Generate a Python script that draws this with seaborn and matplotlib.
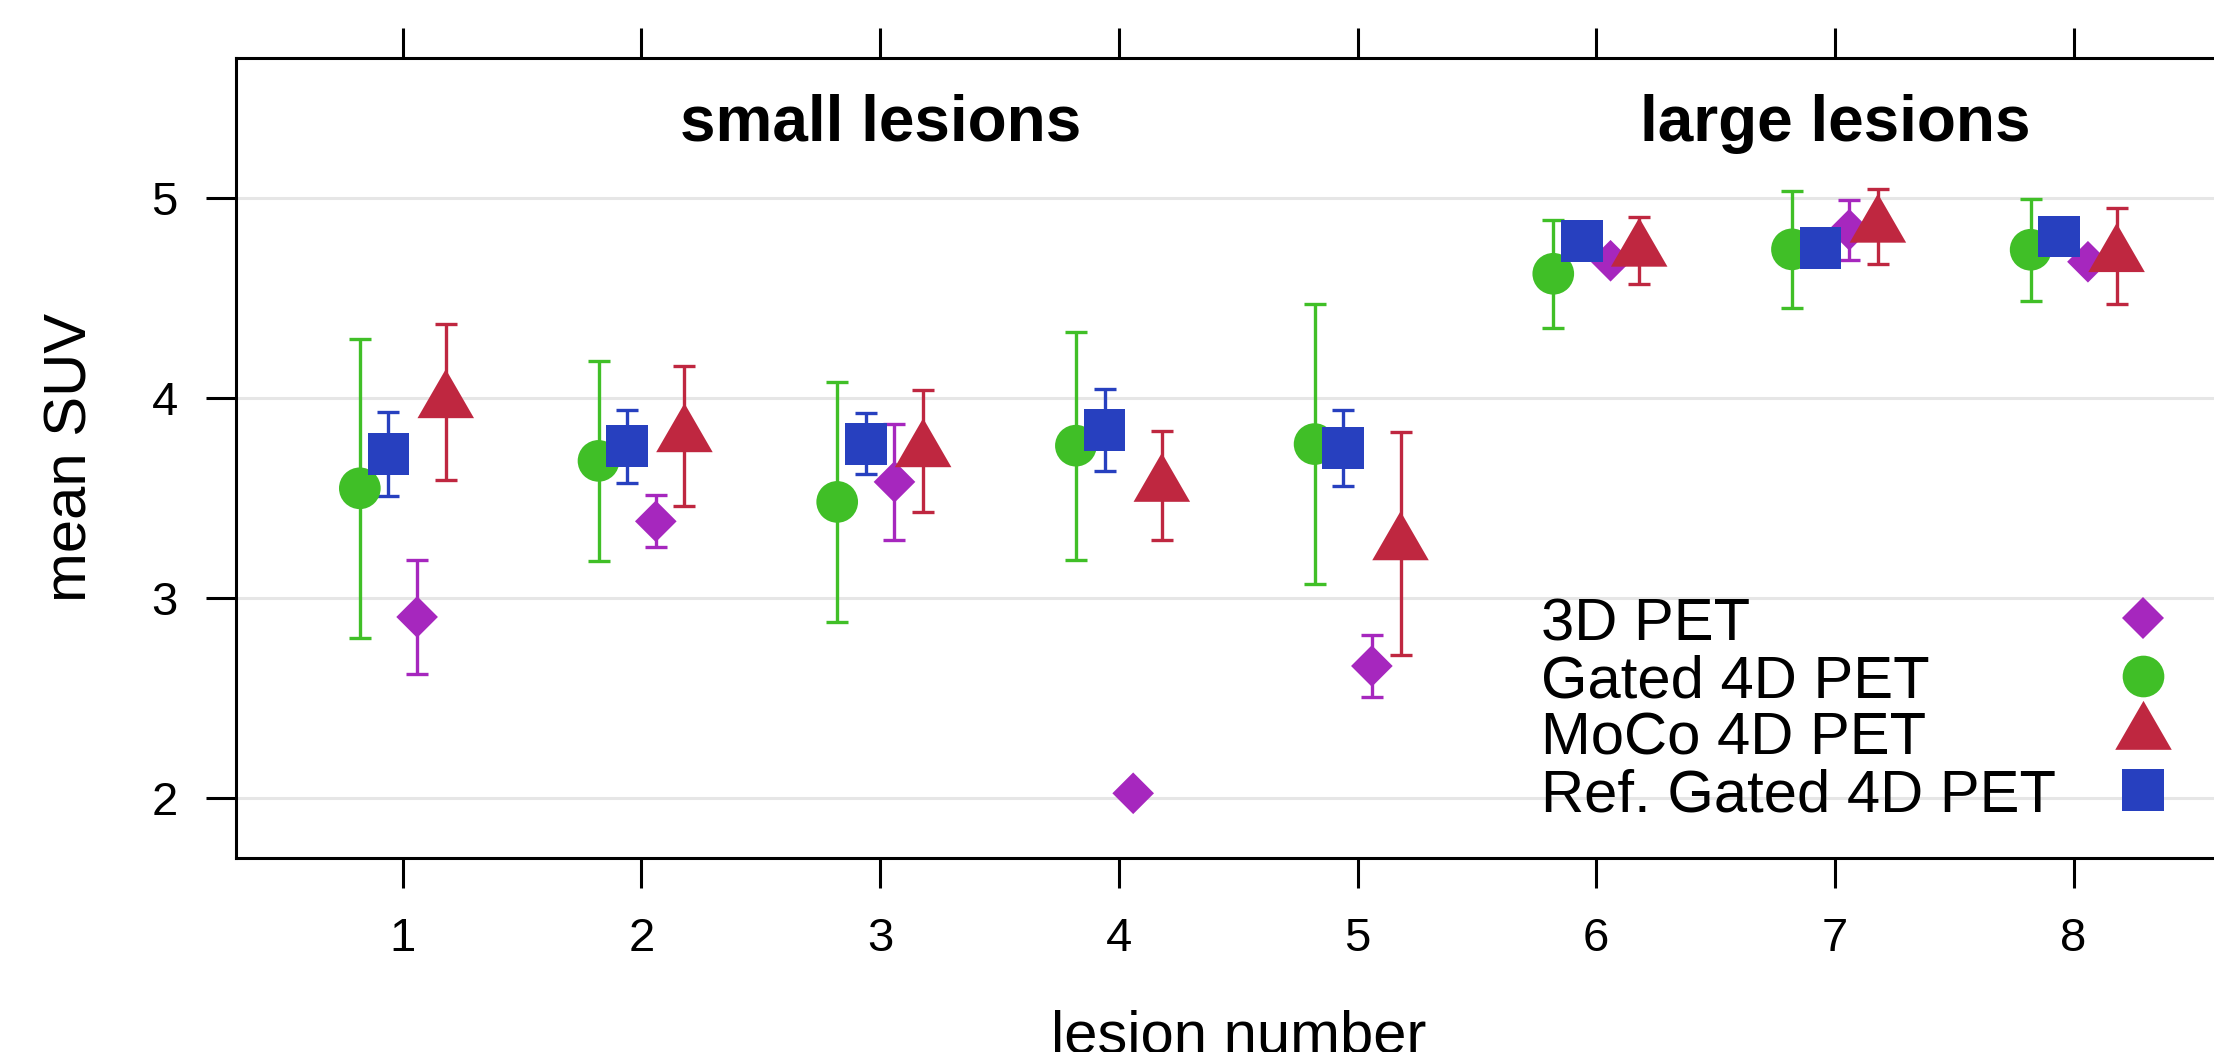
import numpy as np
import seaborn as sns
import matplotlib.pyplot as plt
from matplotlib.path import Path

# lesion numbers and per-method mean SUV with +/- error
lesions = [1, 2, 3, 4, 5, 6, 7, 8]
methods = ["3D PET", "Gated 4D PET", "MoCo 4D PET", "Ref. Gated 4D PET"]

suv_3d = [2.905, 3.383, 3.58, 2.024, 2.66, 4.685, 4.84, 4.68]
err_3d = [0.285, 0.13, 0.29, 0.01, 0.153, 0.03, 0.15, 0.03]

suv_gated = [3.548, 3.685, 3.48, 3.761, 3.769, 4.62, 4.742, 4.74]
err_gated = [0.748, 0.499, 0.60, 0.57, 0.698, 0.27, 0.292, 0.256]

suv_moco = [3.98, 3.81, 3.735, 3.562, 3.27, 4.737, 4.857, 4.71]
err_moco = [0.39, 0.35, 0.305, 0.271, 0.557, 0.169, 0.187, 0.24]

suv_ref = [3.72, 3.758, 3.77, 3.84, 3.75, 4.785, 4.749, 4.806]
err_ref = [0.21, 0.182, 0.153, 0.205, 0.19, 0.03, 0.03, 0.03]

panel_labels = ["small lesions", "large lesions"]

sns.set_theme(style="white")
plt.rcParams['font.family'] = ['Liberation Sans', 'DejaVu Sans']
for k in ["text.color", "axes.labelcolor", "xtick.color", "ytick.color", "axes.edgecolor"]:
    plt.rcParams[k] = "black"

# equilateral triangle centred on its centroid (like R's pch 17)
tri = Path([(0, 1), (-0.866, -0.5), (0.866, -0.5), (0, 1)],
           [Path.MOVETO, Path.LINETO, Path.LINETO, Path.CLOSEPOLY])

style = {
    "3D PET": dict(color="#a627be", marker="D", ms=21.2, dx=0.06),
    "Gated 4D PET": dict(color="#40bf27", marker="o", ms=30, dx=-0.18),
    "MoCo 4D PET": dict(color="#bf2740", marker=tri, ms=47, dx=0.18),
    "Ref. Gated 4D PET": dict(color="#2740bf", marker="s", ms=30, dx=-0.06),
}
values = {"3D PET": (suv_3d, err_3d), "Gated 4D PET": (suv_gated, err_gated),
          "MoCo 4D PET": (suv_moco, err_moco), "Ref. Gated 4D PET": (suv_ref, err_ref)}

fig = plt.figure(figsize=(22.14, 10.52), dpi=100)
ax = fig.add_axes([0.10646, 0.1843, 0.9056, 0.7609])

for i, m in enumerate(methods):
    st = style[m]
    y, e = values[m]
    x = np.array(lesions) + st["dx"]
    ax.errorbar(x, y, yerr=e, fmt="none", ecolor=st["color"], elinewidth=2.4,
                capsize=8, capthick=2.4, zorder=2)
    sns.scatterplot(x=x, y=y, marker=st["marker"], s=st["ms"] ** 2, color=st["color"],
                    linewidth=0, edgecolor="none", ax=ax, zorder=3 + i, legend=False)

ax.set_xlim(0.3, 8.7)
ax.set_ylim(1.70, 5.70)
ax.set_xticks(lesions)
ax.set_yticks([2, 3, 4, 5])
ax.yaxis.grid(True, color="#e6e6e6", lw=2.2)
ax.xaxis.grid(False)
ax.set_axisbelow(True)

for s in ["left", "top", "bottom"]:
    ax.spines[s].set_linewidth(2.2)
ax.spines["right"].set_visible(False)

ax.tick_params(axis="x", direction="out", length=21.6, width=2.2, top=True, bottom=True,
               labeltop=False, labelsize=34, pad=21)
ax.tick_params(axis="y", direction="out", length=21.6, width=2.2, left=True, right=False,
               labelsize=34, pad=20)

ax.text(3, 5.285, panel_labels[0], ha="center", va="baseline", fontsize=46, fontweight="bold")
ax.text(7, 5.285, panel_labels[1], ha="center", va="baseline", fontsize=46, fontweight="bold")

ax.set_xlabel("lesion number", fontsize=43)
ax.xaxis.label.set_va("baseline")
ax.xaxis.set_label_coords(0.5, -0.2428)
ax.set_ylabel("mean SUV", fontsize=43)
ax.yaxis.label.set_va("center")
ax.yaxis.set_label_coords(-0.0821, 0.5)

# lattice-style key: left-aligned labels, symbols in a column on the right
key_x_text, key_x_sym = 0.6509, 0.9511
key_y0, key_step = 0.2724, 0.0715
for i, m in enumerate(methods):
    yb = key_y0 - i * key_step
    ax.text(key_x_text, yb, m, transform=ax.transAxes, ha="left", va="baseline", fontsize=43)
    ax.plot([key_x_sym], [yb + 0.027], transform=ax.transAxes, linestyle="none",
            marker=style[m]["marker"], markersize=style[m]["ms"], color=style[m]["color"],
            markeredgewidth=0, clip_on=False, zorder=10)

plt.savefig("out.png", dpi=100)
